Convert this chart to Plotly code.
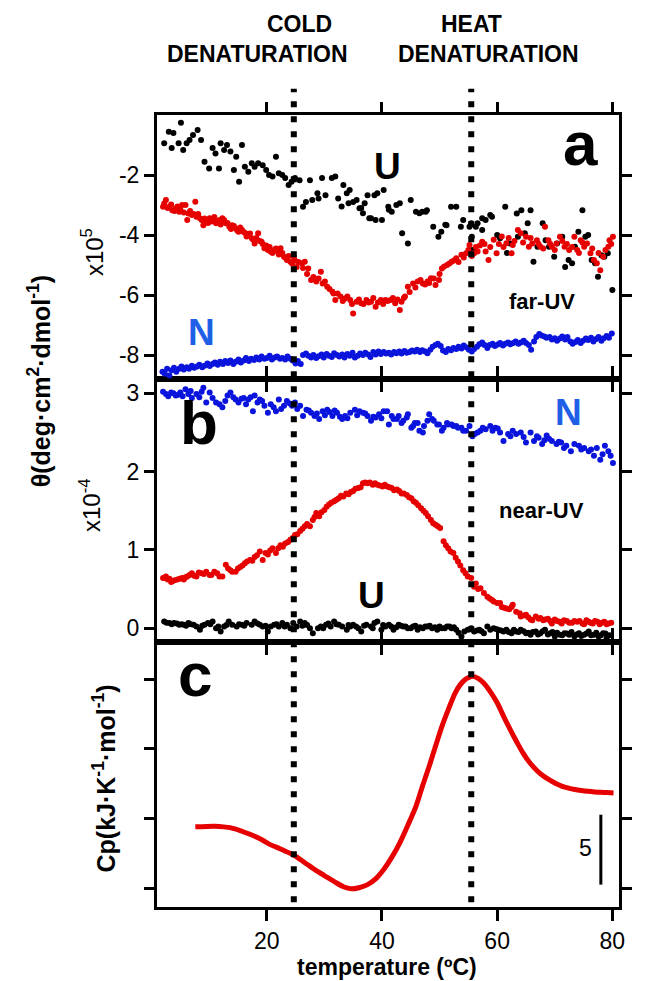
import plotly.graph_objects as go

# ---------------- data (temperature in ºC) ----------------
# panel a (far-UV, x10^5)
ua_t = [2.2,3.0,3.5,3.8,4.7,5.1,5.5,6.1,6.6,7.2,8.0,8.6,9.2,10.0,10.6,11.1,11.7,12.0,12.6,13.1,13.7,14.3,14.7,15.2,15.7,16.2,16.8,17.4,17.9,18.5,19.3,19.9,20.4,21.0,21.6,22.1,22.7,23.2,23.8,24.3,24.9,25.7,26.3,26.8,27.5,27.9,28.8,29.0,29.6,30.2,31.3,31.9,32.4,33.3,33.9,34.4,35.0,35.6,36.4,37.0,37.5,38.1,38.7,39.2,40.0,40.3,41.1,41.7,42.5,43.1,43.5,44.5,45.0,45.9,47.0,47.8,48.9,49.8,50.3,51.2,52.0,52.9,53.7,55.5,55.6,55.7,56.3,57.4,58.0,59.1,60.0,61.4,61.7,62.2,63.4,63.6,64.2,64.8,65.3,65.8,66.3,67.0,67.9,68.4,69.0,69.9,70.4,71.3,71.8,72.4,73.0,73.5,74.1,74.8,75.3,75.8,76.4,77.0,77.5,78.1,78.6,79.2,80.0,
        33.0,34.2,36.1,36.7,37.8,38.9,41.2,46.5,47.6,51.0,54.1,55.2,56.6,57.4,58.8,60.5]
ua_v = [-0.94,-0.56,-1.10,-0.60,-0.94,-0.26,-1.17,-0.94,-0.83,-0.67,-0.50,-0.83,-1.56,-1.78,-1.10,-1.28,-1.78,-0.94,-1.17,-1.00,-1.22,-1.83,-1.39,-2.22,-1.00,-1.72,-1.89,-1.61,-1.72,-1.61,-1.67,-1.83,-2.00,-2.05,-1.39,-1.94,-2.00,-2.10,-2.33,-2.22,-2.10,-2.17,-3.06,-2.90,-2.17,-2.83,-2.61,-2.78,-2.10,-2.67,-2.10,-2.05,-2.78,-2.33,-2.61,-2.50,-2.90,-2.83,-3.10,-2.94,-2.67,-3.44,-2.67,-2.61,-3.50,-2.50,-3.06,-3.22,-3.00,-2.94,-3.94,-4.28,-2.83,-3.22,-3.22,-3.17,-3.72,-4.06,-3.89,-3.67,-3.06,-3.06,-3.72,-3.61,-4.06,-4.50,-3.72,-3.44,-3.50,-3.39,-4.00,-3.06,-4.60,-4.28,-3.28,-4.06,-3.17,-3.94,-3.61,-3.17,-4.89,-4.39,-3.61,-4.17,-4.39,-4.72,-4.28,-4.06,-5.06,-4.83,-4.94,-4.39,-3.89,-3.17,-4.06,-4.00,-4.83,-4.94,-5.39,-4.67,-4.72,-4.61,-5.83,
        -3.05,-2.94,-3.11,-3.27,-3.44,-3.50,-3.16,-3.27,-3.22,-3.66,-3.50,-3.72,-3.61,-3.83,-3.33,-4.11]

ra_t = [2.0,2.5,3.1,3.6,4.2,4.8,5.3,5.9,6.2,6.4,7.0,7.6,7.8,8.4,9.0,9.5,10.1,10.6,11.2,11.8,12.3,12.9,13.5,14.0,14.6,15.1,15.7,16.3,16.8,17.4,17.9,18.5,19.1,19.6,20.2,20.7,21.3,21.9,22.4,23.0,23.5,24.1,24.7,25.2,26.1,26.6,
        2.2,2.8,3.4,4.0,4.5,5.0,5.6,6.7,7.3,8.1,8.7,9.2,9.8,10.4,10.9,11.5,12.0,12.6,13.2,13.8,14.3,14.9,15.4,16.0,16.5,17.1,17.6,18.2,18.8,19.3,19.9,20.5,21.0,21.6,22.1,22.7,23.2,23.8,24.4,24.9,25.5,26.3,
        27.2,27.7,28.6,29.4,29.7,30.5,31.4,31.9,32.8,33.6,34.5,35.0,35.6,36.4,37.3,38.1,38.9,39.8,40.6,41.5,42.3,43.1,43.4,44.0,44.5,45.4,46.2,47.1,47.9,48.5,49.3,49.9,50.4,51.3,52.1,52.9,53.8,54.6,55.2,56.0,56.6,57.4,58.0,58.5,59.4,59.9,60.8,61.6,
        27.0,28.1,29.0,30.1,30.9,31.6,32.3,33.2,34.0,34.8,36.0,36.8,37.7,38.5,39.3,40.2,41.0,41.9,42.7,43.8,44.8,45.8,46.7,47.5,48.2,49.0,50.0,50.8,51.7,52.5,53.3,54.2,55.0,55.6,56.3,57.0,57.8,58.8,60.3,61.1,62.0,
        62.5,62.7,63.6,64.1,65.0,65.5,66.1,66.9,67.5,68.3,68.9,69.5,70.3,70.9,71.7,72.5,73.4,73.9,74.5,75.1,75.6,76.2,76.8,77.3,77.9,78.4,79.3,79.5,80.1,
        63.0,64.5,65.8,67.2,68.0,69.2,70.0,71.3,72.1,73.0,74.2,74.8,76.5,77.6,78.8,79.8]
ra_v = [-3.06,-2.83,-3.06,-3.17,-3.11,-3.22,-3.00,-3.00,-3.50,-3.28,-3.33,-2.89,-3.39,-3.44,-3.67,-3.56,-3.44,-3.50,-3.61,-3.50,-3.44,-3.61,-3.72,-3.67,-3.78,-3.89,-3.83,-3.94,-4.00,-4.11,-4.28,-3.94,-4.22,-4.44,-4.50,-4.56,-4.50,-4.56,-4.44,-4.72,-4.83,-4.89,-4.72,-5.06,-4.94,-4.89,
        -2.95,-3.10,-2.98,-3.20,-3.05,-3.15,-3.25,-3.20,-3.30,-3.30,-3.50,-3.45,-3.60,-3.55,-3.40,-3.55,-3.65,-3.50,-3.60,-3.80,-3.70,-3.85,-3.75,-3.90,-4.05,-3.95,-4.15,-4.10,-4.20,-4.30,-4.35,-4.40,-4.60,-4.45,-4.65,-4.60,-4.75,-4.70,-4.95,-4.85,-4.90,-5.10,
        -5.11,-5.50,-5.55,-5.22,-5.61,-5.72,-5.89,-6.16,-6.05,-6.11,-6.16,-6.61,-6.22,-6.27,-6.16,-6.22,-6.39,-6.16,-6.16,-6.16,-6.27,-6.50,-6.22,-6.05,-5.72,-5.61,-5.55,-5.61,-5.55,-5.44,-5.66,-5.50,-5.11,-5.00,-4.89,-4.77,-4.66,-4.61,-4.33,-4.61,-4.55,-4.22,-4.55,-4.83,-4.16,-4.61,-4.05,-4.27,
        -5.30,-5.40,-5.45,-5.55,-5.80,-5.95,-5.95,-6.20,-6.05,-6.30,-6.15,-6.30,-6.25,-6.10,-6.25,-6.30,-6.20,-6.10,-6.15,-6.10,-5.90,-5.75,-5.50,-5.65,-5.60,-5.45,-5.30,-5.05,-4.95,-4.85,-4.90,-4.75,-4.50,-4.70,-4.40,-4.35,-4.30,-4.40,-4.30,-4.40,-4.10,
        -4.61,-4.33,-3.83,-3.94,-4.06,-4.39,-4.28,-4.17,-4.39,-3.72,-4.17,-4.39,-4.28,-4.06,-4.39,-4.50,-4.06,-4.50,-4.17,-4.39,-4.28,-4.61,-4.83,-4.94,-5.17,-4.72,-4.39,-4.17,-4.06,
        -4.20,-4.25,-4.10,-4.30,-4.45,-4.30,-4.50,-4.20,-4.30,-4.40,-4.60,-4.25,-4.45,-4.60,-4.50,-4.30]

na_t = [1.9,2.3,2.7,3.1,3.5,3.9,4.3,4.8,5.2,5.6,6.1,6.5,7.0,7.4,7.9,8.3,8.8,9.2,9.7,10.1,10.6,11.0,11.5,11.9,12.4,12.8,13.3,13.7,14.2,14.6,15.1,15.5,16.0,16.4,16.9,17.3,17.8,18.2,18.7,19.1,19.6,20.0,20.5,20.9,21.4,21.8,22.3,22.7,23.2,23.6,24.1,24.5,25.0,25.4,25.9,26.3,26.8,27.2,27.7,28.1,28.6,29.0,29.5,29.9,30.4,30.8,31.3,31.7,32.2,32.6,33.1,33.5,34.0,34.4,34.9,35.3,35.8,36.2,36.7,37.1,37.6,38.0,38.5,38.9,39.4,39.8,40.3,40.7,41.2,41.6,42.1,42.5,43.0,43.4,43.9,44.3,44.8,45.2,45.7,46.1,46.6,47.0,47.5,47.9,48.4,48.8,49.3,49.7,50.2,50.6,51.1,51.5,52.0,52.4,52.9,53.3,53.8,54.2,54.7,55.1,55.6,56.0,56.5,56.9,57.4,57.8,58.3,58.7,59.2,59.6,60.1,60.5,61.0,61.4,61.9,62.3,62.8,63.2,63.7,64.1,64.6,65.0,65.5,65.9,66.4,66.8,67.3,67.7,68.2,68.6,69.1,69.5,70.0,70.4,70.9,71.3,71.8,72.2,72.7,73.1,73.6,74.0,74.5,74.9,75.4,75.8,76.3,76.7,77.2,77.6,78.1,78.5,79.0,79.4,79.9]
na_v = [-8.55,-8.62,-8.45,-8.68,-8.50,-8.42,-8.55,-8.45,-8.38,-8.48,-8.40,-8.45,-8.35,-8.42,-8.38,-8.32,-8.40,-8.35,-8.28,-8.36,-8.30,-8.25,-8.32,-8.22,-8.30,-8.20,-8.26,-8.18,-8.30,-8.22,-8.15,-8.25,-8.18,-8.10,-8.20,-8.12,-8.16,-8.08,-8.15,-8.05,-8.12,-8.10,-8.02,-8.15,-8.08,-8.05,-8.12,-8.10,-8.15,-8.05,-8.12,-8.18,-8.28,-8.20,-8.30,-8.00,-7.95,-8.02,-8.08,-8.00,-8.10,-8.04,-7.98,-8.08,-7.96,-8.02,-8.06,-7.94,-8.00,-8.05,-7.98,-8.08,-7.96,-8.02,-7.92,-8.08,-8.02,-7.95,-8.00,-7.92,-7.98,-8.06,-7.90,-7.98,-7.88,-7.96,-7.90,-7.95,-7.92,-7.98,-7.90,-7.94,-7.88,-7.95,-7.86,-7.92,-7.90,-7.85,-7.88,-7.82,-7.90,-7.84,-7.88,-7.94,-7.82,-7.72,-7.66,-7.62,-7.70,-7.85,-7.90,-7.80,-7.84,-7.76,-7.80,-7.72,-7.78,-7.68,-7.75,-7.82,-7.88,-7.80,-7.72,-7.64,-7.58,-7.66,-7.76,-7.66,-7.62,-7.70,-7.65,-7.60,-7.68,-7.62,-7.58,-7.64,-7.60,-7.55,-7.62,-7.58,-7.52,-7.60,-7.66,-7.82,-7.55,-7.40,-7.30,-7.35,-7.38,-7.42,-7.40,-7.48,-7.44,-7.52,-7.45,-7.38,-7.48,-7.40,-7.55,-7.62,-7.56,-7.50,-7.60,-7.52,-7.45,-7.50,-7.42,-7.55,-7.46,-7.40,-7.52,-7.44,-7.36,-7.42,-7.28]

# panel b (near-UV, x10^-4)
nb_t = [2.5,3.4,4.2,5.0,5.9,6.4,7.0,7.8,9.0,9.5,10.1,10.6,11.2,11.8,12.3,13.2,13.7,14.6,15.1,16.0,16.8,17.6,17.9,18.8,19.6,20.2,20.7,21.6,22.1,23.0,23.5,24.4,24.9,25.8,26.3,26.9,27.7,28.3,29.1,29.7,30.5,31.4,32.2,33.1,33.6,34.5,35.3,36.1,36.7,37.5,38.1,38.9,39.5,40.3,40.9,41.2,41.7,42.0,42.6,42.9,43.4,43.7,44.3,44.5,45.1,45.4,45.7,46.2,46.5,47.1,47.3,47.9,48.2,48.7,49.0,49.6,49.9,50.4,50.7,51.3,51.5,52.1,52.4,52.9,53.2,53.8,54.1,54.6,55.2,55.7,56.6,57.1,58.0,58.8,59.7,60.5,61.1,61.9,62.7,63.3,64.1,65.0,65.8,66.4,67.2,67.8,68.6,69.5,70.3,71.1,72.0,72.8,73.4,74.2,75.1,75.9,76.8,77.3,77.9,78.7,79.3,80.1,
        2.0,2.9,3.8,4.6,5.4,6.8,8.3,8.7,12.8,14.2,15.6,16.4,17.2,18.4,19.2,21.2,22.5,24.0,25.3,27.3,28.7,30.1,30.9,31.8,32.7,34.0,35.7,37.1,38.5,39.9,56.1,57.5,59.2,60.1,62.3,64.6,66.9,68.2,69.0,70.7,71.6,74.6,76.3,78.3,79.7]
nb_v = [2.99,3.01,2.97,3.01,3.05,2.99,2.94,2.99,3.07,2.88,3.01,2.94,2.88,2.86,2.82,2.97,3.01,2.92,2.88,2.94,2.92,2.77,2.97,2.92,2.84,2.75,2.86,2.77,2.92,2.84,2.90,2.84,2.88,2.84,2.71,2.79,2.75,2.71,2.67,2.77,2.79,2.71,2.75,2.67,2.71,2.75,2.79,2.77,2.75,2.71,2.65,2.69,2.73,2.77,2.77,2.60,2.71,2.67,2.67,2.71,2.62,2.65,2.69,2.73,2.56,2.58,2.62,2.62,2.52,2.50,2.58,2.65,2.73,2.67,2.65,2.60,2.60,2.52,2.56,2.62,2.60,2.60,2.58,2.58,2.56,2.56,2.52,2.52,2.58,2.45,2.50,2.52,2.54,2.58,2.56,2.50,2.39,2.48,2.52,2.48,2.50,2.37,2.50,2.39,2.43,2.35,2.46,2.39,2.35,2.37,2.33,2.26,2.35,2.33,2.30,2.26,2.20,2.30,2.15,2.33,2.26,2.11,
        3.02,2.96,3.00,2.98,2.96,3.03,2.95,3.02,2.90,2.95,2.93,2.86,2.95,2.88,2.90,2.82,2.80,2.87,2.80,2.78,2.74,2.72,2.76,2.78,2.70,2.68,2.72,2.74,2.70,2.68,2.48,2.56,2.52,2.55,2.45,2.44,2.45,2.40,2.42,2.38,2.30,2.28,2.28,2.22,2.20]

rb_t = [2.0,2.2,2.8,3.4,3.6,4.5,5.3,5.6,6.2,7.0,7.8,8.7,9.5,10.1,10.4,10.9,11.8,12.3,12.9,13.7,14.0,14.6,15.4,16.2,17.1,17.9,18.8,19.3,20.2,21.0,21.6,22.4,23.2,24.1,24.9,25.8,26.6,27.5,28.0,28.6,29.1,30.0,30.8,31.7,32.5,33.3,34.2,35.0,35.9,36.7,37.5,38.4,39.2,40.1,40.9,41.7,42.6,43.4,44.3,45.1,45.9,46.8,47.6,48.5,49.3,50.1,50.7,51.5,52.4,53.2,54.1,54.9,55.5,56.0,56.3,57.1,58.3,59.1,59.4,60.0,60.5,60.8,61.6,62.5,62.7,63.3,63.9,64.1,65.0,65.8,66.1,66.7,67.2,67.5,68.3,69.2,69.5,70.0,70.8,71.6,72.5,73.4,73.9,74.8,75.5,76.2,77.0,77.8,78.6,79.3,79.8,
        2.5,3.1,4.0,4.9,5.9,6.6,7.4,8.2,9.1,11.4,13.3,15.0,15.8,16.6,17.5,18.3,19.8,20.6,22.0,22.8,23.7,24.5,25.3,26.2,27.0,28.3,29.5,30.4,31.2,32.1,32.9,33.8,34.6,35.4,36.3,37.1,37.9,38.8,39.6,40.5,41.3,42.1,43.0,43.8,44.7,45.5,46.3,47.2,48.0,48.9,49.7,51.1,51.9,52.8,53.6,54.5,56.7,57.7,58.7,61.2,62.1,64.6,65.4,68.0,68.8,70.4,71.2,72.1,73.0,74.3,75.1,75.9,76.6,77.4,78.2,79.0]
rb_v = [0.64,0.64,0.62,0.59,0.60,0.62,0.64,0.62,0.66,0.70,0.66,0.70,0.72,0.68,0.68,0.72,0.66,0.66,0.81,0.74,0.72,0.72,0.78,0.83,0.87,0.91,0.98,0.87,0.94,1.02,0.96,1.06,1.08,1.13,1.19,1.24,1.30,1.30,1.38,1.47,1.43,1.51,1.58,1.62,1.66,1.68,1.71,1.75,1.79,1.85,1.85,1.83,1.83,1.81,1.81,1.79,1.77,1.72,1.70,1.66,1.60,1.53,1.47,1.38,1.32,1.28,1.11,1.02,0.96,0.85,0.74,0.66,0.64,0.53,0.57,0.51,0.40,0.36,0.34,0.32,0.32,0.27,0.25,0.27,0.30,0.21,0.19,0.15,0.17,0.11,0.10,0.15,0.12,0.13,0.11,0.09,0.06,0.11,0.08,0.10,0.07,0.09,0.08,0.06,0.10,0.07,0.09,0.05,0.08,0.06,0.07,
        0.66,0.63,0.61,0.63,0.65,0.68,0.67,0.71,0.69,0.70,0.76,0.76,0.80,0.85,0.86,0.93,0.96,0.99,1.02,1.04,1.10,1.15,1.20,1.27,1.33,1.42,1.48,1.55,1.60,1.64,1.69,1.72,1.74,1.78,1.80,1.86,1.86,1.85,1.82,1.83,1.80,1.76,1.75,1.72,1.67,1.62,1.57,1.50,1.43,1.34,1.30,1.06,0.98,0.90,0.80,0.70,0.50,0.45,0.38,0.26,0.24,0.16,0.14,0.10,0.12,0.09,0.06,0.09,0.07,0.09,0.05,0.08,0.06,0.08,0.07,0.05]

ub_t = [2.2,3.1,3.9,4.8,5.6,6.4,7.3,7.8,8.4,9.2,9.8,10.6,11.2,12.0,12.6,13.4,14.0,14.8,15.7,16.5,17.4,17.9,18.8,19.3,20.2,20.7,21.3,22.1,22.7,23.5,24.1,24.6,25.2,25.8,26.6,27.5,28.0,28.9,29.4,30.3,31.1,31.7,32.5,33.1,33.9,34.5,35.0,35.9,36.4,37.3,38.1,38.7,39.2,39.9,40.6,41.2,42.0,42.9,43.7,44.5,45.4,46.2,47.1,47.9,48.7,49.6,50.4,51.3,52.1,52.9,53.8,54.3,54.9,55.5,56.0,56.9,57.7,58.3,59.4,60.2,61.1,61.6,62.5,63.3,64.1,65.0,65.8,66.7,67.5,68.3,69.2,70.0,70.9,71.7,72.5,73.4,74.2,75.1,75.9,76.8,77.6,78.4,79.0,
        2.6,3.5,4.4,5.2,6.0,6.8,8.8,10.2,11.6,13.0,15.2,16.1,18.4,19.8,21.7,23.1,26.2,27.0,29.8,30.7,32.1,34.2,35.5,36.9,38.4,40.2,41.6,42.5,43.3,44.1,45.0,45.8,46.6,47.5,48.3,49.2,50.0,50.9,51.7,52.5,53.3,56.5,57.3,58.8,59.8,60.7,62.0,62.9,63.7,64.6,65.4,66.2,67.1,67.9,68.8,69.6,70.4,71.3,72.1,72.9,73.8,74.6,75.5,76.3,77.2,78.0,78.8,79.5]
ub_v = [0.085,0.064,0.064,0.043,0.043,0.064,0.043,0.021,-0.021,0.043,0.064,0.085,0.0,-0.043,0.021,0.085,0.043,0.021,0.043,0.064,0.043,0.085,0.043,0.021,-0.043,0.021,0.043,0.021,0.064,0.043,0.0,0.064,0.021,0.085,0.064,0.0,-0.064,0.0,0.021,0.043,0.021,0.085,0.043,0.021,-0.021,0.021,0.043,0.0,-0.043,0.043,0.021,0.064,0.085,-0.021,0.021,0.043,-0.021,0.043,0.021,0.0,0.021,-0.021,0.0,0.021,0.0,-0.021,0.0,0.021,0.0,-0.021,-0.107,-0.043,-0.021,0.0,-0.043,-0.021,-0.064,0.021,0.0,-0.021,-0.043,-0.021,-0.064,-0.043,-0.021,-0.064,-0.085,-0.043,-0.064,-0.021,-0.064,-0.107,-0.085,-0.064,-0.085,-0.107,-0.064,-0.085,-0.043,-0.085,-0.107,-0.064,-0.128,
        0.07,0.05,0.06,0.05,0.03,0.05,0.03,0.05,0.02,0.04,0.05,0.03,0.06,0.03,0.05,0.02,0.03,0.04,0.0,0.06,0.05,0.04,0.02,0.03,0.0,0.04,0.02,0.01,0.03,0.02,0.0,0.03,0.01,0.02,0.03,0.01,0.02,0.0,0.02,0.01,-0.06,-0.03,-0.04,-0.02,-0.01,-0.03,-0.05,-0.02,-0.05,-0.04,-0.06,-0.05,-0.08,-0.04,-0.08,-0.05,-0.06,-0.09,-0.07,-0.05,-0.08,-0.10,-0.07,-0.09,-0.06,-0.09,-0.07,-0.09]

# panel c (DSC heat capacity, kJ K^-1 mol^-1, arbitrary offset)
cp_t = [7.6,9.5,11.0,12.5,13.8,15.5,17.2,19.0,20.6,22.3,23.9,25.1,26.5,28.4,30.0,31.8,33.3,34.65,36.0,37.5,39.0,40.3,41.7,43.1,44.5,45.9,47.0,48.2,49.3,50.4,51.6,52.7,53.6,54.4,55.1,55.8,56.7,57.7,58.8,60.0,61.1,62.25,63.4,64.5,65.6,66.8,67.9,69.0,70.1,71.3,72.4,73.5,74.6,75.8,76.9,78.0,79.1,80.2]
cp_v = [4.43,4.46,4.47,4.43,4.36,4.15,3.88,3.55,3.16,2.87,2.57,2.30,1.90,1.35,0.95,0.50,0.15,0.00,0.08,0.30,0.75,1.38,2.25,3.29,4.55,5.90,7.30,8.76,10.20,11.60,12.90,14.00,14.60,14.95,15.12,15.19,15.05,14.70,14.10,13.30,12.35,11.40,10.50,9.70,9.05,8.50,8.10,7.80,7.55,7.33,7.20,7.10,7.03,6.97,6.93,6.90,6.88,6.86]

x_ticks = [20, 40, 60, 80]
ya_ticks = [-8, -6, -4, -2]
ya_text = ["-8", "-6", "-4", "-2"]
yb_ticks = [0, 1, 2, 3]
yc_ticks = [0, 5, 10, 15]
cold_T = 24.7
heat_T = 55.5
scale_bar = (0.3, 5.3)

# ---------------- figure ----------------
RED = "#e60000"
BLUE = "#0a14dc"
BLK = "#000000"
NBLUE = "#1f5fe6"
FONT = "Liberation Sans, Arial, sans-serif"

fig = go.Figure()

def dots(x, y, color, xa, ya):
    fig.add_trace(go.Scatter(x=x, y=y, mode="markers", xaxis=xa, yaxis=ya,
                             marker=dict(size=6, color=color, line=dict(width=0)),
                             showlegend=False, hoverinfo="skip"))

dots(ua_t, ua_v, BLK, "x3", "y3")
dots(ra_t, ra_v, RED, "x3", "y3")
dots(na_t, na_v, BLUE, "x3", "y3")
dots(nb_t, nb_v, BLUE, "x2", "y2")
dots(rb_t, rb_v, RED, "x2", "y2")
dots(ub_t, ub_v, BLK, "x2", "y2")
fig.add_trace(go.Scatter(x=cp_t, y=cp_v, mode="lines", xaxis="x", yaxis="y",
                         line=dict(color=RED, width=5, shape="spline", smoothing=0.8),
                         showlegend=False, hoverinfo="skip"))

XR = [0.95, 81.15]
dom_c = [0.0, 0.3348]
dom_b = [0.3348, 0.6665]
dom_a = [0.6665, 1.0]

axbase = dict(showline=True, linecolor=BLK, linewidth=3, ticks="outside", tickwidth=3,
              ticklen=10, tickcolor=BLK, showgrid=False, zeroline=False,
              tickfont=dict(family=FONT, size=23, color=BLK))

# the page body adds an 8px margin: shift the figure so the plot lands where the reference has it
fig.update_layout(
    width=629, height=973,
    margin=dict(l=149, r=5, t=107, b=73.5),
    paper_bgcolor="white", plot_bgcolor="white",
    showlegend=False,
    xaxis=dict(axbase, range=XR, tickvals=x_ticks, mirror="ticks", anchor="y", ticklen=11),
    xaxis2=dict(axbase, range=XR, tickvals=x_ticks, mirror="ticks", anchor="y2",
                matches="x", showticklabels=False),
    xaxis3=dict(axbase, range=XR, tickvals=x_ticks, mirror="ticks", anchor="y3",
                matches="x", showticklabels=False),
    yaxis=dict(axbase, domain=dom_c, range=[-1.3, 17.66], tickvals=yc_ticks,
               showticklabels=False, mirror="ticks", anchor="x"),
    yaxis2=dict(axbase, domain=dom_b, range=[-0.175, 3.18], tickvals=yb_ticks,
                mirror="ticks", anchor="x2"),
    yaxis3=dict(axbase, domain=dom_a, range=[-8.8, 0.0], tickvals=ya_ticks,
                ticktext=ya_text, mirror="ticks", anchor="x3"),
)

# dotted vertical guide lines through all panels
for T in (cold_T, heat_T):
    fig.add_shape(type="line", xref="x", yref="paper", x0=T, x1=T, y0=0.006, y1=1.033,
                  line=dict(color=BLK, width=6, dash="6px,9px"), layer="above")

# scale bar in panel c
fig.add_shape(type="line", xref="x", yref="y", x0=78.0, x1=78.0,
              y0=scale_bar[0], y1=scale_bar[1], line=dict(color=BLK, width=3))

def ann(text, x, y, size, color=BLK, xref="paper", yref="paper", angle=0, bold=False):
    t = f"<b>{text}</b>" if bold else text
    fig.add_annotation(text=t, x=x, y=y, xref=xref, yref=yref, showarrow=False,
                       textangle=angle, xanchor="center", yanchor="middle",
                       font=dict(family=FONT, size=size, color=color))

# panel labels
ann("a", 74.4, -0.95, 62, xref="x3", yref="y3", bold=True)
ann("U", 41.0, -1.73, 37, xref="x3", yref="y3", bold=True)
ann("N", 8.7, -7.23, 37, color=NBLUE, xref="x3", yref="y3", bold=True)
ann("far-UV", 67.7, -6.23, 22, xref="x3", yref="y3", bold=True)
ann("b", 8.2, 2.62, 62, xref="x2", yref="y2", bold=True)
ann("N", 72.4, 2.75, 37, color=NBLUE, xref="x2", yref="y2", bold=True)
ann("near-UV", 67.7, 1.5, 22, xref="x2", yref="y2", bold=True)
ann("U", 38.2, 0.42, 37, xref="x2", yref="y2", bold=True)
ann("c", 7.5, 15.3, 62, xref="x", yref="y", bold=True)
ann("5", 75.4, 2.95, 23, xref="x", yref="y")

# axis titles
ann("θ(deg·cm<sup>2</sup>·dmol<sup>-1</sup>)", -0.255, 0.664, 25, angle=-90, bold=True)
ann("x10<sup>5</sup>", -0.139, 0.8266, 24, angle=-90)
ann("x10<sup>-4</sup>", -0.145, 0.5076, 24, angle=-90)
ann("Cp(kJ·K<sup>-1</sup>·mol<sup>-1</sup>)", -0.114, 0.1627, 25, angle=-90, bold=True)
ann("temperature (ºC)", 0.4968, -0.0755, 23, bold=True)

# top labels
ann("COLD", 0.3095, 1.1147, 23, bold=True)
ann("DENATURATION", 0.2168, 1.0775, 23, bold=True)
ann("HEAT", 0.68, 1.1147, 23, bold=True)
ann("DENATURATION", 0.7168, 1.0775, 23, bold=True)

fig.write_html("out.html")
